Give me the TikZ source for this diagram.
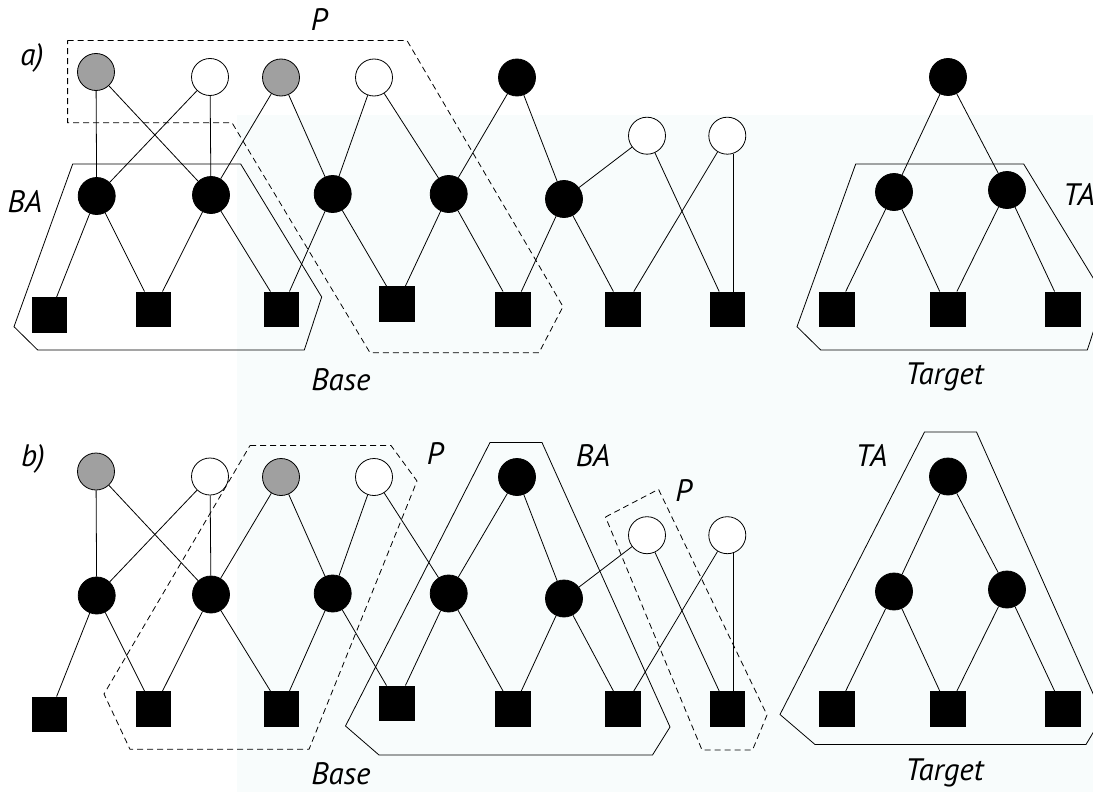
\documentclass[tikz,border=0pt]{standalone}
\usepackage{fontspec}
\setmainfont{PT Sans}
\definecolor{bgtint}{RGB}{248,252,252}
\definecolor{gfill}{RGB}{160,160,160}
\tikzset{
 nd/.style={circle, draw=black, line width=0.8pt, minimum size=37pt, inner sep=0pt},
 gcirc/.style={nd, fill=gfill},
 wcirc/.style={nd, fill=white},
 bcirc/.style={nd, fill=black},
 sqr/.style={rectangle, fill=black, minimum size=35.5pt, inner sep=0pt},
 conn/.style={line width=0.8pt},
 grp/.style={line width=0.8pt, line join=miter},
 pgrp/.style={grp, dash pattern=on 6pt off 4pt},
 lab/.style={font=\fontsize{31}{36}\selectfont\itshape, inner sep=0pt, anchor=base}
}
\newcommand{\graphpanel}[1]{%
 \node[gcirc] (#1g1) at (96,72) {};
 \node[wcirc] (#1w1) at (210,77) {};
 \node[gcirc] (#1g2) at (281,77.5) {};
 \node[wcirc] (#1w2) at (374,77.5) {};
 \node[bcirc] (#1t1) at (517,77.5) {};
 \node[wcirc] (#1w3) at (647,135.7) {};
 \node[wcirc] (#1w4) at (727.3,135.7) {};
 \node[bcirc] (#1m1) at (96.7,196) {};
 \node[bcirc] (#1m2) at (211,195) {};
 \node[bcirc] (#1m3) at (332.7,194) {};
 \node[bcirc] (#1m4) at (448.7,194) {};
 \node[bcirc] (#1m5) at (564,199) {};
 \node[sqr] (#1s1) at (49.5,315) {};
 \node[sqr] (#1s2) at (153.5,309.5) {};
 \node[sqr] (#1s3) at (281.5,309.5) {};
 \node[sqr] (#1s4) at (397,304) {};
 \node[sqr] (#1s5) at (513,309.5) {};
 \node[sqr] (#1s6) at (623,309.5) {};
 \node[sqr] (#1s7) at (727.5,309.5) {};
 \node[bcirc] (#1tt) at (948,77) {};
 \node[bcirc] (#1tm1) at (894,192) {};
 \node[bcirc] (#1tm2) at (1007,190) {};
 \node[sqr] (#1ts1) at (837,309.5) {};
 \node[sqr] (#1ts2) at (948,309.5) {};
 \node[sqr] (#1ts3) at (1063,309.5) {};
 \draw[conn] (#1g1) -- (#1m1);
 \draw[conn] (#1g1) -- (#1m2);
 \draw[conn] (#1w1) -- (#1m1);
 \draw[conn] (#1w1) -- (#1m2);
 \draw[conn] (#1g2) -- (#1m2);
 \draw[conn] (#1g2) -- (#1m3);
 \draw[conn] (#1w2) -- (#1m3);
 \draw[conn] (#1w2) -- (#1m4);
 \draw[conn] (#1t1) -- (#1m4);
 \draw[conn] (#1t1) -- (#1m5);
 \draw[conn] (#1w3) -- (#1m5);
 \draw[conn] (#1w3) -- (#1s7);
 \draw[conn] (#1w4) -- (#1s6);
 \draw[conn] (#1w4.-72) -- (#1w4.-72 |- #1s7.north);
 \draw[conn] (#1m1) -- (#1s1);
 \draw[conn] (#1m1) -- (#1s2);
 \draw[conn] (#1m2) -- (#1s2);
 \draw[conn] (#1m2) -- (#1s3);
 \draw[conn] (#1m3) -- (#1s3);
 \draw[conn] (#1m3) -- (#1s4);
 \draw[conn] (#1m4) -- (#1s4);
 \draw[conn] (#1m4) -- (#1s5);
 \draw[conn] (#1m5) -- (#1s5);
 \draw[conn] (#1m5) -- (#1s6);
 \draw[conn] (#1tt) -- (#1tm1);
 \draw[conn] (#1tt) -- (#1tm2);
 \draw[conn] (#1tm1) -- (#1ts1);
 \draw[conn] (#1tm1) -- (#1ts2);
 \draw[conn] (#1tm2) -- (#1ts2);
 \draw[conn] (#1tm2) -- (#1ts3);
}
\begin{document}
\begin{tikzpicture}[x=1pt,y=-1pt]
\useasboundingbox (0,0) rectangle (1093,792);
\clip (0,0) rectangle (1093,792);
\fill[white] (0,0) rectangle (1093,792);
\fill[bgtint] (237,115) rectangle (1093,792);
% panel a
\graphpanel{a}
\draw[grp] (72.7,164) -- (240.7,164) -- (321.7,297) -- (304.3,350) -- (37.7,350) -- (14,326.7) -- cycle;
\draw[grp] (855.7,164) -- (1023.7,164) -- (1104.7,297) -- (1087.3,350) -- (820.7,350) -- (797,326.7) -- cycle;
\draw[pgrp] (67.6,40.5) -- (407,40.5) -- (563,306.6) -- (539,352.7) -- (370,352.7) -- (232,122.7) -- (67.6,122.7) -- cycle;
\node[lab] (la) at (32,66) {a)};
\node[lab] (lba) at (25,212) {BA};
\node[lab] (lpa) at (319,30.7) {P};
\node[lab] (lbasea) at (341,390) {Base};
\node[lab] (ltarga) at (944.5,384) {Target};
\node[lab, anchor=base west] (ltaa) at (1063,205) {TA};
% panel b
\begin{scope}[yshift=-399.5pt]
\graphpanel{b}
\end{scope}
\draw[pgrp] (250,445.5) -- (391,445.5) -- (417,481) -- (309,749.3) -- (130,749.3) -- (104,694) -- cycle;
\draw[grp] (490,442.5) -- (542,442.5) -- (670,727) -- (652.5,755) -- (379,755) -- (345.5,726) -- cycle;
\draw[pgrp] (605.5,517) -- (658.5,489.3) -- (767,715) -- (752.5,750) -- (702,750) -- cycle;
\draw[grp] (924.5,432) -- (976.5,432) -- (1103,716) -- (1086,744.5) -- (815,744.5) -- (780,714.5) -- cycle;
\node[lab] (lb) at (33,466) {b)};
\node[lab] (lpb1) at (435,464) {P};
\node[lab] (lbab) at (593,466.7) {BA};
\node[lab] (lpb2) at (683.7,501.7) {P};
\node[lab] (ltab) at (871.5,466.7) {TA};
\node[lab] (lbaseb) at (341,784) {Base};
\node[lab] (ltargb) at (944.5,780) {Target};
\end{tikzpicture}
\end{document}
